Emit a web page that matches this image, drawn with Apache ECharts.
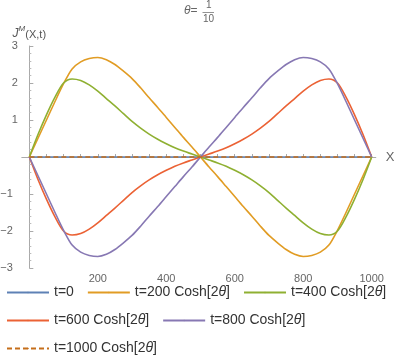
<!DOCTYPE html>
<html>
<head>
<meta charset="utf-8">
<script src="https://cdn.jsdelivr.net/npm/echarts@6/dist/echarts.min.js"></script>
<style>
  html, body { margin: 0; padding: 0; background: #fff; }
  #chart { width: 406px; height: 363px; }
</style>
</head>
<body>
<div id="chart"></div>
<script>
// X 坐标（共享，每 25 一个点）
const xs = [0, 25, 50, 75, 100, 125, 150, 175, 200, 225, 250, 275, 300, 325, 350, 375, 400, 425, 450, 475, 500,
  525, 550, 575, 600, 625, 650, 675, 700, 725, 750, 775, 800, 825, 850, 875, 900, 925, 950, 975, 1000]
// 各时刻的 J^M(X,t)
const t0 = [0, 0, 0, 0, 0, 0, 0, 0, 0, 0, 0, 0, 0, 0, 0, 0, 0, 0, 0, 0, 0,
  0, 0, 0, 0, 0, 0, 0, 0, 0, 0, 0, 0, 0, 0, 0, 0, 0, 0, 0, 0]
const t200 = [0, 0.5, 1.0, 1.5, 1.98, 2.38, 2.57, 2.66, 2.69, 2.63, 2.5, 2.32, 2.12, 1.87, 1.6, 1.34, 1.07, 0.8, 0.53, 0.27, 0,
  -0.27, -0.53, -0.8, -1.07, -1.34, -1.6, -1.87, -2.12, -2.32, -2.5, -2.63, -2.69, -2.66, -2.57, -2.38, -1.98, -1.5, -1.0, -0.5, 0]
const t400 = [0, 0.6, 1.14, 1.62, 2.0, 2.11, 2.07, 1.95, 1.78, 1.58, 1.38, 1.17, 0.96, 0.78, 0.62, 0.48, 0.36, 0.25, 0.16, 0.08, 0,
  -0.08, -0.16, -0.25, -0.36, -0.48, -0.62, -0.78, -0.96, -1.17, -1.38, -1.58, -1.78, -1.95, -2.07, -2.11, -2.0, -1.62, -1.14, -0.6, 0]
const t600 = [0, -0.6, -1.14, -1.62, -2.0, -2.11, -2.07, -1.95, -1.78, -1.58, -1.38, -1.17, -0.96, -0.78, -0.62, -0.48, -0.36, -0.25, -0.16, -0.08, 0,
  0.08, 0.16, 0.25, 0.36, 0.48, 0.62, 0.78, 0.96, 1.17, 1.38, 1.58, 1.78, 1.95, 2.07, 2.11, 2.0, 1.62, 1.14, 0.6, 0]
const t800 = [0, -0.5, -1.0, -1.5, -1.98, -2.38, -2.57, -2.66, -2.69, -2.63, -2.5, -2.32, -2.12, -1.87, -1.6, -1.34, -1.07, -0.8, -0.53, -0.27, 0,
  0.27, 0.53, 0.8, 1.07, 1.34, 1.6, 1.87, 2.12, 2.32, 2.5, 2.63, 2.69, 2.66, 2.57, 2.38, 1.98, 1.5, 1.0, 0.5, 0]
const t1000 = [0, 0, 0, 0, 0, 0, 0, 0, 0, 0, 0, 0, 0, 0, 0, 0, 0, 0, 0, 0, 0,
  0, 0, 0, 0, 0, 0, 0, 0, 0, 0, 0, 0, 0, 0, 0, 0, 0, 0, 0, 0]
const names = ['t=0', 't=200 Cosh[2θ]', 't=400 Cosh[2θ]', 't=600 Cosh[2θ]', 't=800 Cosh[2θ]', 't=1000 Cosh[2θ]']
const xTicks = [0, 50, 100, 150, 200, 250, 300, 350, 400, 450, 500, 550, 600, 650, 700, 750, 800, 850, 900, 950, 1000]
const xLabels = [200, 400, 600, 800, 1000]

const colors = ['#5E81B5', '#E19C24', '#8FB032', '#EB6235', '#8778B3', '#C56E1A']
const font = 'Arial, "Liberation Sans", sans-serif'

function pairs(ys) {
  return xs.map((x, i) => [x, ys[i]])
}

function makeSeries(name, ys, color, dashed) {
  return {
    name: name,
    type: 'line',
    data: pairs(ys),
    symbol: 'none',
    smooth: 0.3,
    lineStyle: {
      color: color,
      width: 1.6,
      type: dashed ? [5, 3] : 'solid'
    },
    itemStyle: { color: color },
    emphasis: { disabled: true }
  }
}

const chart = echarts.init(document.getElementById('chart'))
chart.setOption({
  animation: false,
  textStyle: { fontFamily: font },
  grid: {
    left: 21.8,
    right: 30.2,
    top: 46,
    bottom: 95,
    outerBoundsMode: 'none'
  },
  graphic: [
    {
      type: 'text',
      left: 184,
      top: 5,
      style: {
        text: '{i|θ}=',
        fill: '#666',
        font: '12px ' + font,
        rich: { i: { fontStyle: 'italic', fontSize: 12, fontFamily: font, fill: '#666' } }
      }
    },
    {
      type: 'text',
      left: 206,
      top: 0,
      style: { text: '1', fill: '#666', font: '10px ' + font }
    },
    {
      type: 'line',
      shape: { x1: 202.5, y1: 12.5, x2: 214, y2: 12.5 },
      style: { stroke: '#777', lineWidth: 0.8 }
    },
    {
      type: 'text',
      left: 203,
      top: 14,
      style: { text: '10', fill: '#666', font: '10px ' + font }
    }
  ],
  legend: {
    left: 6,
    top: 285,
    width: 400,
    padding: 0,
    itemWidth: 42,
    itemHeight: 2,
    itemGap: 13,
    selectedMode: false,
    data: names,
    formatter: function (n) {
      return n.replace('θ', '{i|θ}')
    },
    textStyle: {
      color: '#333',
      fontSize: 14,
      lineHeight: 15,
      fontFamily: font,
      rich: {
        i: { fontStyle: 'italic', fontSize: 14, lineHeight: 15, color: '#333', fontFamily: font }
      }
    }
  },
  xAxis: {
    type: 'value',
    min: -22,
    max: 1012,
    name: 'X',
    nameGap: 10,
    nameTextStyle: { color: '#666', fontSize: 13 },
    axisLine: { onZero: true, lineStyle: { color: '#aaa', width: 1 } },
    axisTick: { inside: true, length: 3, customValues: xTicks, lineStyle: { color: '#aaa' } },
    axisLabel: {
      customValues: xLabels,
      color: '#666',
      fontSize: 11,
      margin: 5,
      formatter: function (v) { return String(v) }
    },
    splitLine: { show: false }
  },
  yAxis: {
    type: 'value',
    min: -3,
    max: 3,
    interval: 1,
    name: '{j|J}{m|M}{p|(X,t)}',
    nameGap: 6,
    nameTextStyle: {
      rich: {
        j: { fontStyle: 'italic', fontSize: 12, color: '#555', verticalAlign: 'bottom', lineHeight: 15 },
        m: { fontStyle: 'italic', fontSize: 8, color: '#555', verticalAlign: 'top', lineHeight: 15 },
        p: { fontSize: 11, color: '#555', verticalAlign: 'bottom', lineHeight: 13 }
      }
    },
    axisLine: { onZero: true, lineStyle: { color: '#aaa', width: 1 } },
    axisTick: { inside: true, length: 4, lineStyle: { color: '#aaa' } },
    minorTick: { show: true, splitNumber: 5, length: 2, lineStyle: { color: '#bbb' } },
    axisLabel: {
      color: '#666',
      fontSize: 11,
      margin: 4,
      formatter: function (v) {
        if (v === 0) return ''
        if (v < 0) return '{n|−' + (-v) + '}'
        return String(v)
      },
      rich: { n: { color: '#666', fontSize: 11, padding: [0, 5, 0, 0] } }
    },
    splitLine: { show: false },
    minorSplitLine: { show: false }
  },
  series: [
    makeSeries(names[0], t0, colors[0], false),
    makeSeries(names[1], t200, colors[1], false),
    makeSeries(names[2], t400, colors[2], false),
    makeSeries(names[3], t600, colors[3], false),
    makeSeries(names[4], t800, colors[4], false),
    makeSeries(names[5], t1000, colors[5], true)
  ]
})
</script>
</body>
</html>
